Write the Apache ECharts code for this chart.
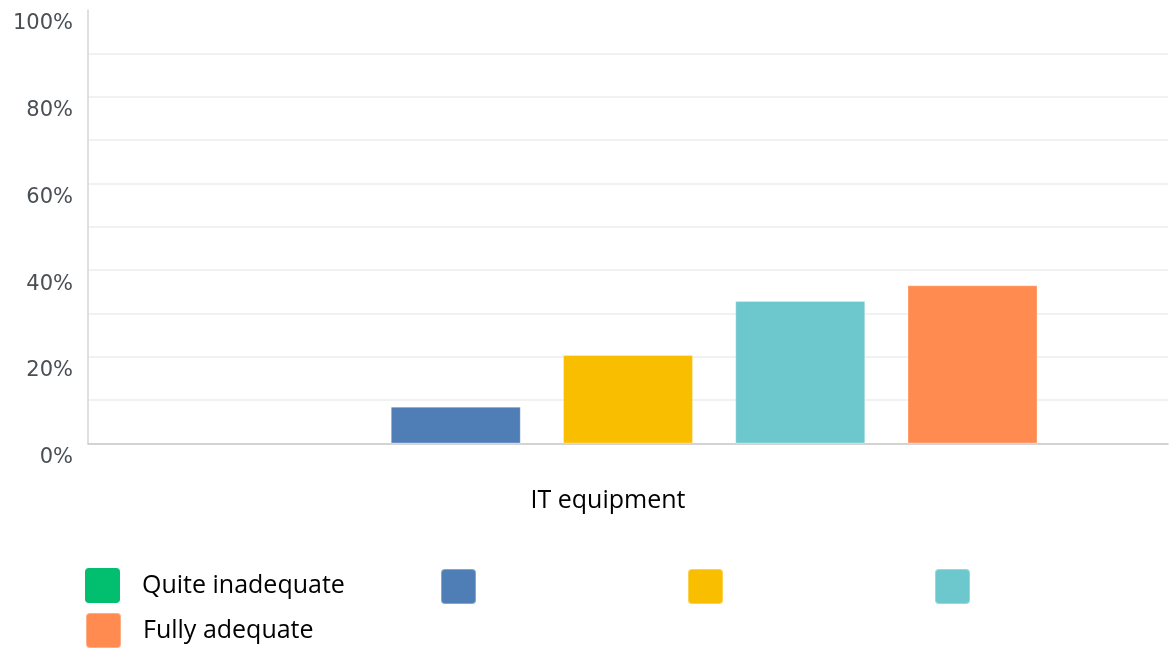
<!DOCTYPE html>
<html>
<head>
<meta charset="utf-8">
<script src="https://cdn.jsdelivr.net/npm/echarts@6/dist/echarts.min.js"></script>
<style>
  html, body { margin: 0; padding: 0; background: #fff; }
  #chart { width: 1170px; height: 648px; }
</style>
</head>
<body>
<div id="chart"></div>
<script>
// Single category, five rating levels
const categories = ['IT equipment'];
const seriesKeys = ['lvl1', 'lvl2', 'lvl3', 'lvl4', 'lvl5'];
const legendLabels = ['Quite inadequate', '', '', '', 'Fully adequate'];
const seriesValues = [0, 8.5, 20.4, 32.9, 36.5];
const seriesColors = ['#01bf6f', '#4f7eb6', '#f9be00', '#6cc8cc', '#ff8b50'];
const yTickLabels = [0, 20, 40, 60, 80, 100];

// legend placement (one legend block per entry)
const legendSpots = [
  { left: 85, top: 568 },
  { left: 440, top: 568 },
  { left: 687, top: 568 },
  { left: 934, top: 568 },
  { left: 85, top: 612 }
];

const squareIcon = 'path://M4,0H31A4,4 0 0 1 35,4V31A4,4 0 0 1 31,35H4A4,4 0 0 1 0,31V4A4,4 0 0 1 4,0Z';

const chart = echarts.init(document.getElementById('chart'), null, { renderer: 'canvas' });

const labelOf = {};
seriesKeys.forEach((k, i) => { labelOf[k] = legendLabels[i]; });

const option = {
  animation: false,
  backgroundColor: '#ffffff',
  grid: { left: 88, right: 2, top: 10, bottom: 204.5, containLabel: false },
  xAxis: {
    type: 'category',
    data: categories,
    axisLine: { show: true, lineStyle: { color: '#c9c9c9', width: 1.5 } },
    axisTick: { show: false },
    axisLabel: {
      color: '#000000',
      fontFamily: 'Open Sans',
      fontSize: 25,
      margin: 45,
      padding: [0, 40, 0, 0]
    }
  },
  yAxis: {
    type: 'value',
    min: 0,
    max: 100,
    interval: 10,
    axisLine: { show: true, lineStyle: { color: '#d6d6d6', width: 1.5 } },
    axisTick: { show: false },
    splitLine: { show: true, showMaxLine: false, lineStyle: { color: '#ececec', width: 1.5 } },
    axisLabel: {
      color: '#4a4f55',
      fontFamily: 'DejaVu Sans',
      fontSize: 21,
      margin: 15,
      verticalAlign: 'top',
      lineHeight: 28,
      formatter: v => (yTickLabels.indexOf(v) >= 0 ? v + '%' : '')
    }
  },
  legend: seriesKeys.map((k, i) => ({
    data: [k],
    left: legendSpots[i].left,
    top: legendSpots[i].top,
    padding: 0,
    icon: squareIcon,
    itemWidth: 35,
    itemHeight: 35,
    selectedMode: false,
    formatter: name => labelOf[name],
    textStyle: {
      color: '#000000',
      fontFamily: 'Open Sans',
      fontSize: 25,
      padding: [0, 0, 0, 17]
    }
  })),
  series: seriesKeys.map((k, i) => ({
    name: k,
    type: 'bar',
    data: [seriesValues[i]],
    barWidth: 130,
    barGap: '32.5%',
    itemStyle: {
      color: seriesColors[i],
      borderColor: 'rgba(255,255,255,0.3)',
      borderWidth: seriesValues[i] > 0 ? 1 : 0
    }
  }))
};

chart.setOption(option);
</script>
</body>
</html>
